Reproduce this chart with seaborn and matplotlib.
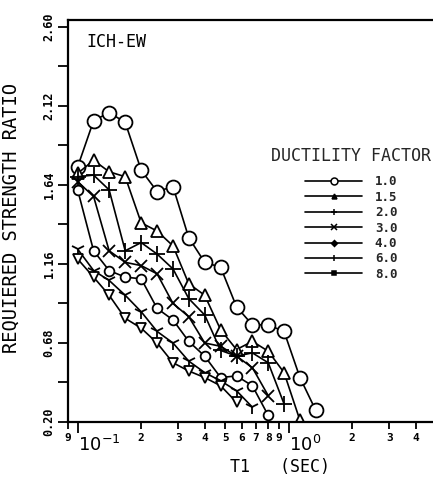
import matplotlib
matplotlib.use("Agg")
import matplotlib.pyplot as plt
import numpy as np
import pandas as pd
import seaborn as sns
from matplotlib.lines import Line2D
from matplotlib.ticker import FixedLocator, FixedFormatter
from matplotlib.font_manager import FontProperties

# ---- data ----
period = [0.100, 0.119, 0.141, 0.168, 0.200, 0.238, 0.283, 0.336,
          0.400, 0.476, 0.566, 0.673, 0.800, 0.951, 1.131, 1.345]

ratio_10 = [1.75, 2.03, 2.08, 2.02, 1.73, 1.60, 1.63, 1.32, 1.17, 1.14,
            0.90, 0.79, 0.79, 0.75, 0.47, 0.27]
ratio_15 = [1.71, 1.79, 1.72, 1.69, 1.41, 1.36, 1.27, 1.04, 0.97, 0.76,
            0.64, 0.69, 0.63, 0.50, 0.21]
ratio_20 = [1.69, 1.70, 1.61, 1.24, 1.29, 1.22, 1.13, 0.95, 0.85, 0.635,
            0.60, 0.62, 0.56, 0.31]
ratio_30 = [1.66, 1.57, 1.24, 1.17, 1.15, 1.10, 0.92, 0.84, 0.68, 0.66,
            0.60, 0.53, 0.36]
ratio_40 = [1.61, 1.24, 1.12, 1.08, 1.07, 0.89, 0.82, 0.69, 0.60, 0.47,
            0.48, 0.42, 0.24]
ratio_60 = [1.25, 1.12, 1.06, 0.97, 0.87, 0.75, 0.68, 0.57, 0.50, 0.45,
            0.39, 0.29]
ratio_80 = [1.19, 1.08, 0.97, 0.83, 0.77, 0.68, 0.56, 0.51, 0.47, 0.42,
            0.32]

ductility_labels = ["1.0", "1.5", "2.0", "3.0", "4.0", "6.0", "8.0"]
series = [ratio_10, ratio_15, ratio_20, ratio_30, ratio_40, ratio_60, ratio_80]

ytick_major = [0.20, 0.68, 1.16, 1.64, 2.12, 2.60]
ytick_minor = [0.44, 0.92, 1.40, 1.88, 2.36]
xtick_major = [0.1, 1.0]
xtick_major_labels = ["$10^{-1}$", "$10^{0}$"]
xtick_minor = [0.09, 0.2, 0.3, 0.4, 0.5, 0.6, 0.7, 0.8, 0.9, 2, 3, 4]
xtick_minor_labels = ["9", "2", "3", "4", "5", "6", "7", "8", "9", "2", "3", "4"]

rows = []
for lab, vals in zip(ductility_labels, series):
    for t, v in zip(period, vals):
        rows.append({"period": t, "ratio": v, "ductility": lab})
df = pd.DataFrame(rows)

# ---- style ----
sns.set_theme(style="ticks")
plt.rcParams["font.family"] = ["DejaVu Sans Mono", "DejaVu Sans"]

W, H = 433, 480
fig = plt.figure(figsize=(W / 100, H / 100), dpi=100)
left_px, right_px, top_px, bottom_px = 68, 441.5, 20, 422
ax = fig.add_axes([left_px / W, 1 - bottom_px / H,
                   (right_px - left_px) / W, (bottom_px - top_px) / H])
ax.set_facecolor("white")
ax.set_xscale("log")

plot_styles = {
    "1.0": dict(marker="o", markersize=10, markerfacecolor="white"),
    "1.5": dict(marker="^", markersize=8, markerfacecolor="white"),
    "2.0": dict(marker="+", markersize=11),
    "3.0": dict(marker="x", markersize=8.5),
    "4.0": dict(marker="o", markersize=7, markerfacecolor="white"),
    "6.0": dict(marker="1", markersize=10),
    "8.0": dict(marker="v", markersize=7, markerfacecolor="white"),
}
for lab in ductility_labels:
    sub = df[df["ductility"] == lab]
    sns.lineplot(data=sub, x="period", y="ratio", ax=ax, color="black",
                 linewidth=1.2, markeredgecolor="black", markeredgewidth=1.3,
                 legend=False, **plot_styles[lab])

ax.set_xlim(0.09, 5.3)
ax.set_ylim(0.20, 2.642)

# x ticks
ax.xaxis.set_major_locator(FixedLocator(xtick_major))
ax.xaxis.set_major_formatter(FixedFormatter(xtick_major_labels))
ax.xaxis.set_minor_locator(FixedLocator(xtick_minor))
ax.xaxis.set_minor_formatter(FixedFormatter(xtick_minor_labels))
ax.tick_params(axis="x", which="major", direction="out", length=8, width=1.3,
               labelsize=13, pad=1, colors="black")
ax.tick_params(axis="x", which="minor", direction="out", length=5, width=1.3,
               labelsize=8, pad=3, colors="black")
for t in ax.xaxis.get_majorticklabels():
    t.set_horizontalalignment("left")
    t.set_family("DejaVu Sans")
for t in ax.xaxis.get_minorticklabels():
    t.set_fontweight("bold")

# y ticks
ax.yaxis.set_major_locator(FixedLocator(ytick_major))
ax.yaxis.set_major_formatter(FixedFormatter([f"{v:.2f}" for v in ytick_major]))
ax.yaxis.set_minor_locator(FixedLocator(ytick_minor))
ax.tick_params(axis="y", which="both", direction="out", length=7, width=1.3,
               colors="black")
ax.tick_params(axis="y", which="major", labelsize=8.5, pad=2, labelrotation=90)
for t in ax.yaxis.get_majorticklabels():
    t.set_fontweight("bold")
    t.set_verticalalignment("center")

for side in ["left", "bottom", "top"]:
    ax.spines[side].set_linewidth(1.6)
    ax.spines[side].set_color("black")
ax.spines["right"].set_visible(False)

ax.set_ylabel("REQUIERED STRENGTH RATIO", fontsize=13.5, color="black")
ax.yaxis.set_label_coords((21 - left_px) / (right_px - left_px),
                          (bottom_px - 218) / (bottom_px - top_px))
ax.set_xlabel("T1   (SEC)", fontsize=12, color="black")
ax.xaxis.set_label_coords((280 - left_px) / (right_px - left_px),
                          (bottom_px - 458) / (bottom_px - top_px))

ax.text((86 - left_px) / (right_px - left_px), (bottom_px - 33) / (bottom_px - top_px),
        "ICH-EW", transform=ax.transAxes, fontsize=12, va="top", ha="left",
        color="black")

# legend
leg_markers = [
    dict(marker="o", markersize=5, markerfacecolor="white"),
    dict(marker="^", markersize=3.5, markerfacecolor="black"),
    dict(marker="+", markersize=5),
    dict(marker="x", markersize=4),
    dict(marker="D", markersize=3, markerfacecolor="black"),
    dict(marker="|", markersize=5),
    dict(marker="s", markersize=3, markerfacecolor="black"),
]
handles = [Line2D([], [], color="black", linewidth=1.2, markeredgecolor="black",
                  markeredgewidth=1.1, **m) for m in leg_markers]
leg = ax.legend(handles, ductility_labels, title="DUCTILITY FACTOR",
                loc="upper left", bbox_to_anchor=(271 / W, 1 - 147 / H),
                bbox_transform=fig.transFigure, frameon=False,
                prop=FontProperties(family="DejaVu Sans Mono", weight="bold", size=9),
                title_fontproperties=FontProperties(family="DejaVu Sans Mono", size=12),
                handlelength=4.6, handletextpad=1.0, labelspacing=0.19,
                borderpad=0, borderaxespad=0)
leg._legend_box.sep = 7.5

fig.savefig("out.png", dpi=100, facecolor="white")
